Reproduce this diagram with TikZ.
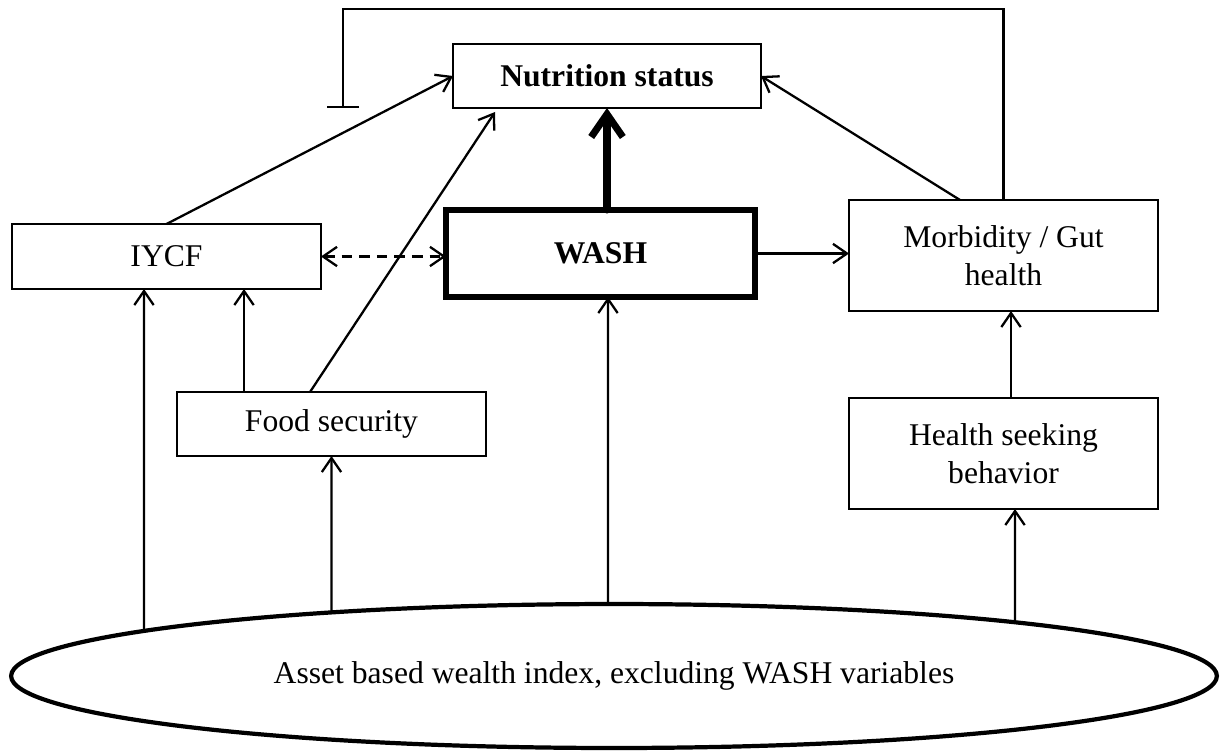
\documentclass[tikz,border=0pt]{standalone}
\usepackage{fontspec}
\setmainfont{Liberation Serif}
\usetikzlibrary{arrows.meta}
\usetikzlibrary{shapes.geometric}
\usetikzlibrary{intersections}
\tikzset{
  box/.style={draw,line width=1.2pt,minimum width=6.18cm,inner sep=2pt,outer sep=0pt,
    align=center,font=\fontsize{18}{21.6}\selectfont},
  arr/.style={line width=1.3pt,-{Straight Barb[length=8pt,width=11pt]}},
  dasharr/.style={line width=1.3pt,dash pattern=on 6pt off 4pt,
    {Straight Barb[length=8pt,width=11pt]}-{Straight Barb[length=8pt,width=11pt]}},
  bigarr/.style={line width=4pt,line cap=round,-{Straight Barb[length=13pt,width=18pt]}},
  inhib/.style={line width=1.3pt,-{Bar[width=0.64cm]}}
}

\begin{document}
\begin{tikzpicture}[x=0.02cm,y=-0.02cm]
  \useasboundingbox (0,0) rectangle (1222,750);

  \node[box,minimum width=6.16cm,minimum height=1.28cm,font=\fontsize{18}{21.6}\selectfont\bfseries]
    (nutr) at (607,76) {Nutrition status};
  \node[box,minimum height=1.3cm] (iycf) at (166.5,256.5) {IYCF};
  \node[box,line width=3.7pt,minimum height=1.74cm,font=\fontsize{18}{21.6}\selectfont\bfseries]
    (wash) at (600.5,253.5) {WASH};
  \node[box,minimum height=2.22cm] (morb) at (1003.5,255.5) {Morbidity / Gut\\health};
  \node[box,minimum height=1.28cm] (food) at (331.5,424) {Food security};
  \node[box,minimum height=2.22cm] (health) at (1003.5,453.5) {Health seeking\\behavior};
  \node[draw,ellipse,line width=2.4pt,minimum width=24.12cm,minimum height=2.88cm,
    inner sep=0pt,outer sep=0pt,font=\fontsize{18}{21.6}\selectfont]
    (wealth) at (614,676) {\raisebox{-0.12cm}{Asset based wealth index, excluding WASH variables}};
  \path[name path=rim] (wealth.center) ellipse [x radius=12.06cm, y radius=1.44cm];

  % feedback from morbidity
  \coordinate (block) at (343,108);
  \draw[inhib] (morb.north) -- ++(0,-191) -| (block);

  \draw[arr] (iycf.north) -- (nutr.west);
  \draw[arr] ([xshift=-0.43cm]food.north) -- ([xshift=0.84cm,yshift=-0.08cm]nutr.south west);
  \draw[bigarr] (wash.north -| nutr.south) -- (nutr.south);
  \draw[arr] ([xshift=-0.87cm]morb.north) -- (nutr.east);

  \draw[dasharr] (iycf.east) -- (iycf.east -| wash.west);
  \draw[arr] (wash.east) -- (wash.east -| morb.west);

  \draw[arr] ([xshift=-1.75cm]food.north) -- ([xshift=-1.75cm]food.north |- iycf.south);
  \draw[arr] ([xshift=0.15cm]health.north) -- ([xshift=0.15cm]morb.south);

  % from the wealth index
  \foreach \b/\s/\w in {iycf/-0.45cm/w1, food/0cm/w2, wash/0.15cm/w3, health/0.23cm/w4} {
    \path[name path=guide] ([xshift=\s]\b.south) -- ++(0,500);
    \path[name intersections={of=rim and guide,by=\w}];
    \draw[arr] (\w) -- ([xshift=\s]\b.south);
  }
\end{tikzpicture}
\end{document}
